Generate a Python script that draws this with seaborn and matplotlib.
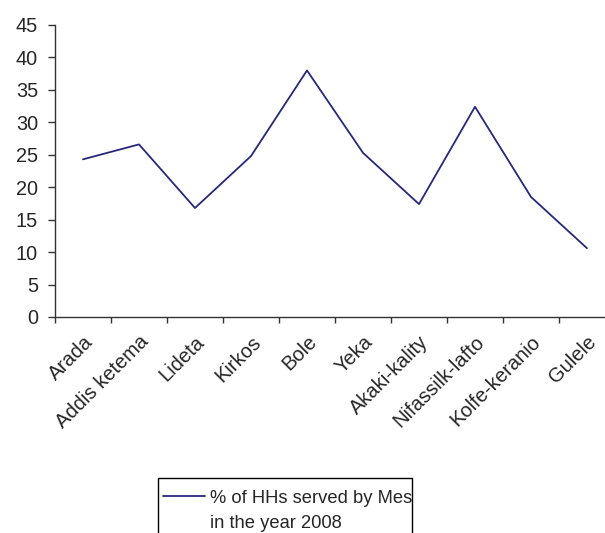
import matplotlib
matplotlib.use("Agg")
import matplotlib.pyplot as plt
import seaborn as sns
import pandas as pd
import numpy as np
from matplotlib.legend_handler import HandlerLine2D
from matplotlib.lines import Line2D
from matplotlib.patches import Rectangle

# Sub-city names and share of households served
sub_cities = ["Arada", "Addis ketema", "Lideta", "Kirkos", "Bole", "Yeka",
              "Akaki-kality", "Nifassilk-lafto", "Kolfe-keranio", "Gulele"]
served_pct = [24.3, 26.6, 16.8, 24.8, 38.0, 25.3, 17.4, 32.4, 18.5, 10.6]
y_ticks = [0, 5, 10, 15, 20, 25, 30, 35, 40, 45]
series_label = "% of HHs served by Mes\nin the year 2008"


class FirstLineHandler(HandlerLine2D):
    """Legend line raised to sit beside the first text line."""

    def create_artists(self, legend, orig_handle, xdescent, ydescent,
                       width, height, fontsize, trans):
        artists = super().create_artists(legend, orig_handle, xdescent,
                                         ydescent, width, height, fontsize,
                                         trans)
        for a in artists:
            if isinstance(a, Line2D):
                y = np.asarray(a.get_ydata(), float)
                a.set_ydata(y + 0.82 * fontsize)
        return artists


sns.set_style("white")
plt.rcParams["font.family"] = ["Liberation Sans", "DejaVu Sans"]

df = pd.DataFrame({"sub_city": sub_cities, "pct": served_pct})

fig = plt.figure(figsize=(6.05, 5.33), dpi=100)
ax = fig.add_axes([55 / 605, 216 / 533, 560 / 605, 292 / 533])

sns.lineplot(data=df, x="sub_city", y="pct", ax=ax, color="#27287a",
             linewidth=1.3, sort=False, label=series_label, legend=False)

n = len(sub_cities)
ax.set_xlim(-0.5, n - 0.5)
ax.set_ylim(0, 45)
ax.set_yticks(y_ticks)
ax.set_yticklabels([str(v) for v in y_ticks], fontsize=14.3)

ax.set_xticks(np.arange(n))
ax.set_xticklabels(sub_cities, rotation=45, ha="right",
                   rotation_mode="anchor", fontsize=14.5)
ax.set_xticks(np.arange(n + 1) - 0.5, minor=True)
ax.tick_params(axis="x", which="major", length=0, pad=11)
ax.tick_params(axis="x", which="minor", length=4.5, width=1, color="#333333",
               direction="out", bottom=True)
ax.tick_params(axis="y", length=4.8, width=1, color="#333333",
               direction="out", left=True, pad=7.5)

for s in ("top", "right"):
    ax.spines[s].set_visible(False)
for s in ("left", "bottom"):
    ax.spines[s].set_color("#333333")
    ax.spines[s].set_linewidth(1)

ax.set_xlabel("")
ax.set_ylabel("")
ax.grid(False)

# Legend box (runs past the lower edge of the figure)
fig.add_artist(Rectangle((158 / 605, -0.05), (412 - 158) / 605,
                         (533 - 478) / 533 + 0.05,
                         transform=fig.transFigure, fill=False,
                         edgecolor="black", linewidth=1))

handles, labels = ax.get_legend_handles_labels()
leg = fig.legend(handles, labels, loc="upper left",
                 bbox_to_anchor=(163 / 605, 1 - 490 / 533),
                 borderaxespad=0, fontsize=13.2, frameon=False,
                 handlelength=2.3, handletextpad=0.25, borderpad=0,
                 handler_map={Line2D: FirstLineHandler()})
for t in leg.get_texts():
    t.set_linespacing(1.65)

fig.savefig("out.png", dpi=100)
